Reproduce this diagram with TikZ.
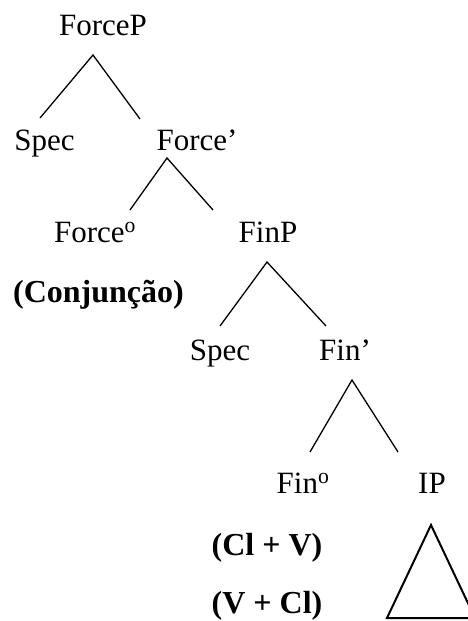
\documentclass[tikz,border=0pt]{standalone}
\usepackage{fontspec}
\setmainfont{Liberation Serif}
\usetikzlibrary{calc,positioning}

\tikzset{
    label/.style={anchor=base, inner sep=0pt, font=\fontsize{31}{36}\selectfont},
    gloss/.style={label, font=\fontsize{32}{36}\selectfont\bfseries},
    branch/.style={line width=1.3pt},
}

\begin{document}
\begin{tikzpicture}[x=1pt, y=-1pt]
    \useasboundingbox (0,0) rectangle (467,621);
    % labels of the tree
    \node[label] (forcep) at (103,35) {ForceP};
    \node[label] (spec1) at (44.5,150) {Spec};
    \node[label] (forcebar) at (197,150) {Force’};
    \node[label] (forcehead) at (95,242) {Force\textsuperscript{o}};
    \node[label] (finp) at (268,242) {FinP};
    \node[gloss] (conj) at (98.5,302) {(Conjunção)};
    \node[label] (spec2) at (220,360) {Spec};
    \node[label] (finbar) at (345,360) {Fin’};
    \node[label] (finhead) at (303,493) {Fin\textsuperscript{o}};
    \node[label] (ip) at (432,493) {IP};
    \node[gloss] (clv) at (267,555) {(Cl + V)};
    \node[gloss] (vcl) at (267,613) {(V + Cl)};
    % branching points
    \coordinate (forcep-top) at (93,55);
    \coordinate (spec1-top) at (40,118);
    \coordinate (forcebar-top) at (140,119);
    \coordinate (forcebar-bot) at (167,158);
    \coordinate (forcehead-top) at (130,210);
    \coordinate (finp-top) at (213,210);
    \coordinate (finp-bot) at (267,262);
    \coordinate (spec2-top) at (220,326);
    \coordinate (finbar-top) at (326,326);
    \coordinate (finbar-bot) at (352,380);
    \coordinate (finhead-top) at (310,452);
    \coordinate (ip-top) at (398,452);
    \draw[branch] (spec1-top) -- (forcep-top) -- (forcebar-top);
    \draw[branch] (forcehead-top) -- (forcebar-bot) -- (finp-top);
    \draw[branch] (spec2-top) -- (finp-bot) -- (finbar-top);
    \draw[branch] (finhead-top) -- (finbar-bot) -- (ip-top);
    % IP triangle
    \draw[line width=2pt] (431,525) -- (387,618) -- (475,618) -- cycle;
\end{tikzpicture}
\end{document}
